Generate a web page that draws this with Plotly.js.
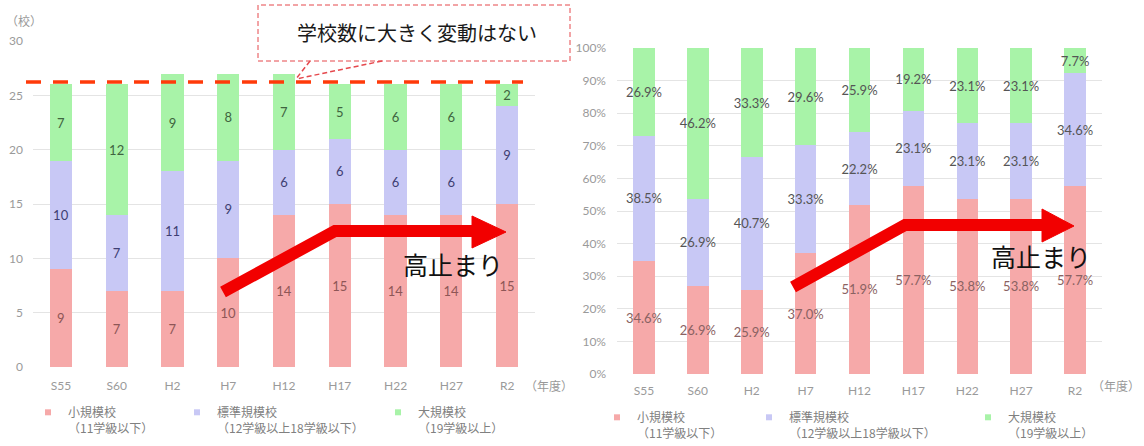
<!DOCTYPE html>
<html>
<head>
<meta charset="utf-8">
<script src="https://cdn.plot.ly/plotly-3.0.1.min.js"></script>
<style>html,body{margin:0;padding:0;background:#fff;}#chart{width:1144px;height:446px;}</style>
</head>
<body>
<div id="chart"></div>
<script>
const categories = ['S55','S60','H2','H7','H12','H17','H22','H27','R2'];
const smallCount = [9,7,7,10,14,15,14,14,15];
const standardCount = [10,7,11,9,6,6,6,6,9];
const largeCount = [7,12,9,8,7,5,6,6,2];
const smallPct = [34.6,26.9,25.9,37.0,51.9,57.7,53.8,53.8,57.7];
const standardPct = [38.5,26.9,40.7,33.3,22.2,23.1,23.1,23.1,34.6];
const largePct = [26.9,46.2,33.3,29.6,25.9,19.2,23.1,23.1,7.7];
const seriesNames = ['小規模校<br>（11学級以下）','標準規模校<br>（12学級以上18学級以下）','大規模校<br>（19学級以上）'];
const countUnit = '（校）';
const yearUnit = '（年度）';
const calloutText = '学校数に大きく変動はない';
const plateauText = '高止まり';

const W = 1144, H = 446;
const px = v => v / W;
const py = v => 1 - v / H;
const P = (x, y) => px(x).toFixed(5) + ',' + py(y).toFixed(5);

const barColors = ['#f6a9a9', '#c8c8f5', '#a8f3a8'];
const leftText = ['#8e5656', '#3e3e72', '#3f643f'];
const rightText = ['#8a6262', '#555555', '#555555'];
const NUM = 'Lato, "Noto Sans CJK JP", sans-serif';
const JP = '"Noto Sans CJK JP", sans-serif';

const countSets = [smallCount, standardCount, largeCount];
const pctSets = [smallPct, standardPct, largePct];
const traces = [];
countSets.forEach((vals, i) => {
  traces.push({type:'bar', x:categories, y:vals, xaxis:'x', yaxis:'y', showlegend:false,
    marker:{color:barColors[i]}, texttemplate:'%{y}', textposition:'inside', insidetextanchor:'middle',
    textangle:0, constraintext:'none', textfont:{family:NUM, size:13, color:leftText[i]}, hoverinfo:'skip'});
});
pctSets.forEach((vals, i) => {
  traces.push({type:'bar', x:categories, y:vals, xaxis:'x2', yaxis:'y2', showlegend:false,
    marker:{color:barColors[i]}, texttemplate:'%{y:.1f}%', textposition:'inside', insidetextanchor:'middle',
    textangle:0, constraintext:'none', textfont:{family:NUM, size:13, color:rightText[i]}, hoverinfo:'skip'});
});
// legend entries
const legendNames = ['legend','legend2','legend3','legend4','legend5','legend6'];
for (let k = 0; k < 6; k++) {
  const i = k % 3;
  traces.push({type:'scatter', mode:'markers', x:[null], y:[null], xaxis: k<3?'x':'x2', yaxis: k<3?'y':'y2',
    name:seriesNames[i], legend:legendNames[k], showlegend:true,
    marker:{symbol:'square', size:6, color:barColors[i]}, hoverinfo:'skip'});
}

const legendStyle = (xText, yTop) => ({x:px(xText-40), y:py(yTop), xanchor:'left', yanchor:'top',
  bgcolor:'rgba(0,0,0,0)', borderwidth:0, valign:'top', itemsizing:'trace',
  font:{family:JP, size:12, color:'#808080'}});

const axisFont = {family:NUM, size:12, color:'#9a9a9a'};
const layout = {
  width:W, height:H, margin:{l:0,r:0,t:0,b:0,autoexpand:false}, paper_bgcolor:'#fff', plot_bgcolor:'rgba(0,0,0,0)',
  barmode:'stack', bargap:0.6, showlegend:true, hovermode:false,
  xaxis:{domain:[px(33), px(535)], type:'category', showgrid:false, zeroline:false, showline:false,
    ticks:'', tickfont:axisFont, ticklabelstandoff:10, automargin:false},
  yaxis:{domain:[py(367), py(41)], range:[0,30], dtick:5, showgrid:true, gridcolor:'#e4e4e4', gridwidth:1,
    zeroline:false, showline:false, ticks:'', tickfont:axisFont, ticklabelstandoff:9, automargin:false},
  xaxis2:{domain:[px(617), px(1102)], type:'category', showgrid:false, zeroline:false, showline:false,
    ticks:'', tickfont:axisFont, ticklabelstandoff:8, anchor:'y2', automargin:false},
  yaxis2:{domain:[py(374), py(48)], range:[0,100], dtick:10, ticksuffix:'%', showgrid:true, gridcolor:'#e4e4e4',
    gridwidth:1, zeroline:false, showline:false, ticks:'', tickfont:axisFont, ticklabelstandoff:10, anchor:'x2',
    automargin:false},
  legend: legendStyle(68, 398),
  legend2: legendStyle(217, 398),
  legend3: legendStyle(418, 398),
  legend4: legendStyle(637, 403),
  legend5: legendStyle(789, 403),
  legend6: legendStyle(1008, 403),
  shapes:[
    {type:'line', xref:'paper', yref:'paper', x0:px(26), x1:px(523), y0:py(82), y1:py(82), layer:'above',
      line:{color:'#ff3a0a', width:3.5, dash:'15px,12px'}},
    {type:'rect', xref:'paper', yref:'paper', x0:px(258), x1:px(570), y0:py(61), y1:py(5), layer:'above',
      fillcolor:'#ffffff', line:{color:'#e5484d', width:1, dash:'5px,3px'}},
    {type:'path', xref:'paper', yref:'paper', layer:'above', path:'M'+P(310,61)+'L'+P(296,79),
      line:{color:'#e5484d', width:1.5, dash:'5px,3px'}},
    {type:'path', xref:'paper', yref:'paper', layer:'above', path:'M'+P(382,61)+'L'+P(296,79),
      line:{color:'#e5484d', width:1.5, dash:'5px,3px'}},
    {type:'path', xref:'paper', yref:'paper', layer:'above', path:'M'+P(223,292)+'L'+P(335,231)+'L'+P(474,231),
      line:{color:'#f20000', width:12}},
    {type:'path', xref:'paper', yref:'paper', layer:'above', path:'M'+P(472,216)+'L'+P(506,232)+'L'+P(472,248)+'Z',
      fillcolor:'#f20000', line:{color:'#f20000', width:1}},
    {type:'path', xref:'paper', yref:'paper', layer:'above', path:'M'+P(793,287)+'L'+P(905,225)+'L'+P(1044,225),
      line:{color:'#f20000', width:12}},
    {type:'path', xref:'paper', yref:'paper', layer:'above', path:'M'+P(1042,209)+'L'+P(1074,226)+'L'+P(1042,242)+'Z',
      fillcolor:'#f20000', line:{color:'#f20000', width:1}}
  ],
  annotations:[
    {text:countUnit, xref:'paper', yref:'paper', x:px(24), y:py(20), showarrow:false, xanchor:'center', yanchor:'middle',
      font:{family:JP, size:12, color:'#999999'}},
    {text:yearUnit, xref:'paper', yref:'paper', x:px(549), y:py(385), showarrow:false, xanchor:'center', yanchor:'middle',
      font:{family:JP, size:12, color:'#999999'}},
    {text:yearUnit, xref:'paper', yref:'paper', x:px(1116), y:py(385), showarrow:false, xanchor:'center', yanchor:'middle',
      font:{family:JP, size:12, color:'#999999'}},
    {text:calloutText, xref:'paper', yref:'paper', x:px(417), y:py(33), showarrow:false, xanchor:'center', yanchor:'middle',
      font:{family:JP, size:20, color:'#1a1a1a'}},
    {text:plateauText, xref:'paper', yref:'paper', x:px(453), y:py(264), showarrow:false, xanchor:'center', yanchor:'middle',
      font:{family:JP, size:25, color:'#111111'}},
    {text:plateauText, xref:'paper', yref:'paper', x:px(1041), y:py(256), showarrow:false, xanchor:'center', yanchor:'middle',
      font:{family:JP, size:25, color:'#111111'}}
  ]
};

Plotly.newPlot('chart', traces, layout, {displayModeBar:false, staticPlot:true});
</script>
</body>
</html>
